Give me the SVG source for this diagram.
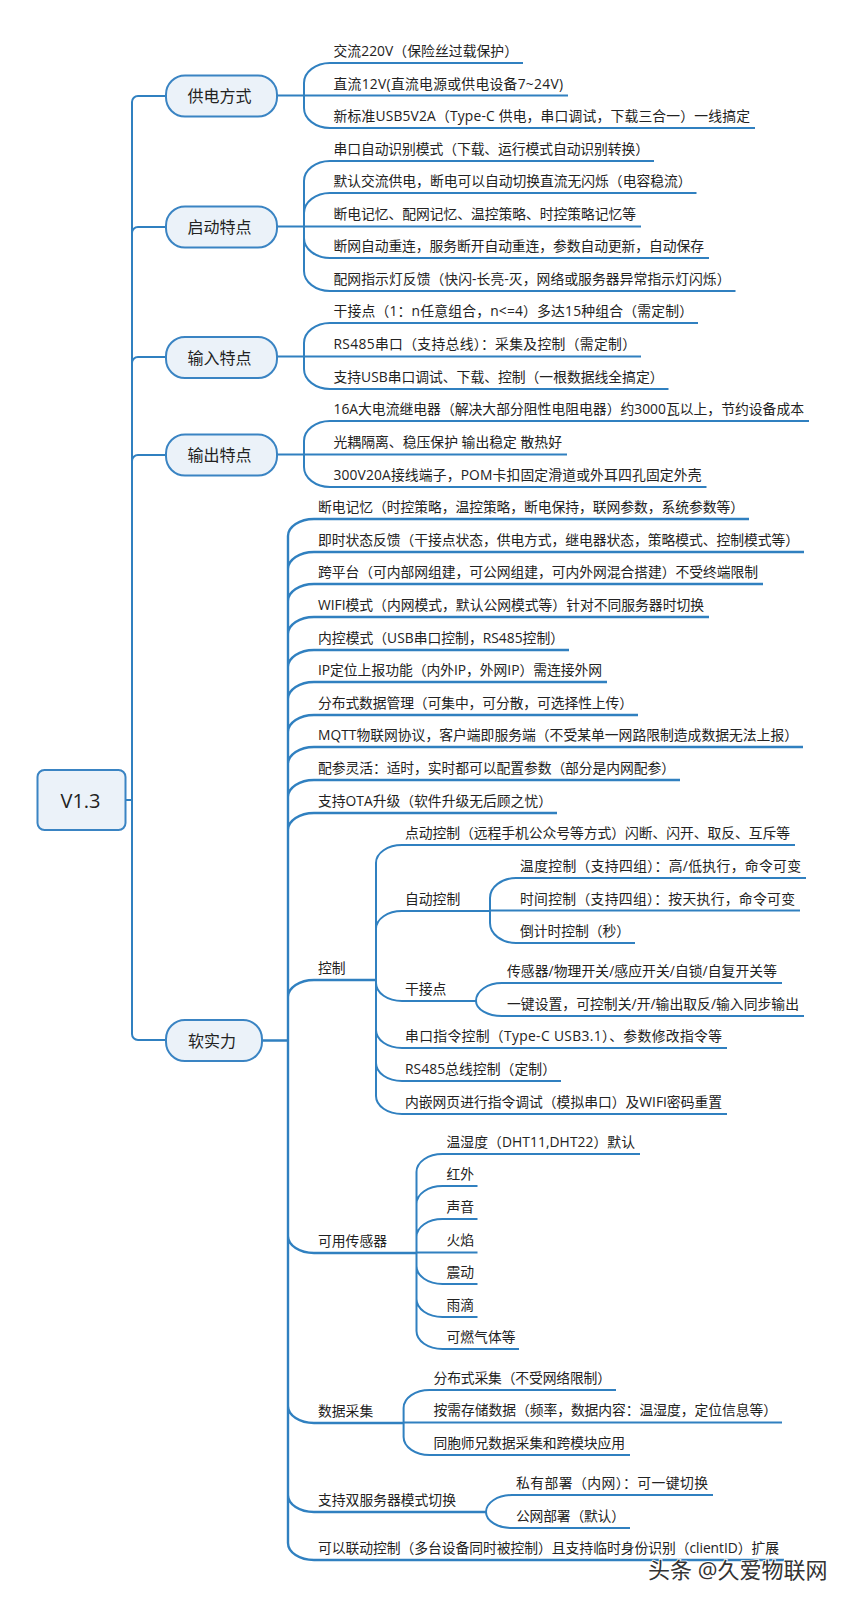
<svg xmlns="http://www.w3.org/2000/svg" width="845" height="1599" viewBox="0 0 845 1599">
<style>
text{font-family:"Open Sans","Noto Sans CJK SC",sans-serif;fill:#222}
.t{font-size:13.8px}
.n{font-size:16px;text-anchor:middle}
.r{font-size:20px;text-anchor:middle}
.box{fill:#ebf2f9;stroke:#3a84c3;stroke-width:2}
.c path{fill:none;stroke:#3080c0;stroke-width:2}
.c path.b{stroke-width:2.4}
.w{font-size:22px;fill:#333;stroke:#fff;stroke-width:1.6px;paint-order:stroke}
</style>
<rect width="845" height="1599" fill="#fff"/>
<g id="connectors" class="c">
<path d="M126,800H132M132,800V102A6 6 0 0 1 138,96H166M132,800V233A6 6 0 0 1 138,227H166M132,800V363A6 6 0 0 1 138,357H166M132,800V461A6 6 0 0 1 138,455H166M132,800V1034A6 6 0 0 0 138,1040H166"/>
<path d="M277,95.5H568M304,96V83A26 20 0 0 1 330,63H523M304,96V108A26 20 0 0 0 330,128H755"/>
<path d="M277,226.5H641M304,227V181A26 20 0 0 1 330,161H654M304,227V213A26 20 0 0 1 330,193H696.5M304,227V238A26 20 0 0 0 330,258H709M304,227V271A26 20 0 0 0 330,291H735.5"/>
<path d="M277,356.5H641M304,357V343A26 20 0 0 1 330,323H698M304,357V369A26 20 0 0 0 330,389H668.5"/>
<path d="M277,454.5H567M304,455V441A26 20 0 0 1 330,421H809M304,455V467A26 20 0 0 0 330,487H706.5"/>
<path class="b" d="M262,1040.5H288M288,1040V536A26 17 0 0 1 314,519H749M288,1040V569A26 17 0 0 1 314,552H804M288,1040V601A26 17 0 0 1 314,584H763M288,1040V634A26 17 0 0 1 314,617H709M288,1040V667A26 17 0 0 1 314,650H569M288,1040V699A26 17 0 0 1 314,682H607M288,1040V732A26 17 0 0 1 314,715H638M288,1040V764A26 17 0 0 1 314,747H803M288,1040V797A26 17 0 0 1 314,780H680M288,1040V830A26 17 0 0 1 314,813H557M288,1040V997A26 17 0 0 1 314,980H376M288,1040V1236A26 17 0 0 0 314,1253H416.5M288,1040V1406A26 17 0 0 0 314,1423H403.6M288,1040V1495A26 17 0 0 0 314,1512H486M288,1040V1543A26 17 0 0 0 314,1560H784"/>
<path d="M376,980V863A26 18 0 0 1 402,845H795M376,980V929A26 18 0 0 1 402,911H490M376,980V983A26 18 0 0 0 402,1001H476M376,980V1030A26 18 0 0 0 402,1048H727M376,980V1063A26 18 0 0 0 402,1081H561M376,980V1096A26 18 0 0 0 402,1114H727"/>
<path d="M490,910.5H800M490,911V898A26 20 0 0 1 516,878H806M490,911V923A26 20 0 0 0 516,943H635"/>
<path d="M476,1001A26 18 0 0 1 502,983H782M476,1001A26 15 0 0 0 502,1016H804"/>
<path d="M416.5,1252.5H477.5M416.5,1253V1172A26 18 0 0 1 442.5,1154H640M416.5,1253V1204A26 18 0 0 1 442.5,1186H477.5M416.5,1253V1237A26 18 0 0 1 442.5,1219H477.5M416.5,1253V1266A26 18 0 0 0 442.5,1284H477.5M416.5,1253V1299A26 18 0 0 0 442.5,1317H477.5M416.5,1253V1331A26 18 0 0 0 442.5,1349H519"/>
<path d="M403.6,1422.5H782M403.6,1423V1408A26 18 0 0 1 430,1390H616M403.6,1423V1437A26 18 0 0 0 430,1455H630"/>
<path d="M486,1512A26 17 0 0 1 512,1495H713M486,1512A26 16 0 0 0 512,1528H630"/>
</g>
<g id="root"><rect class="box" x="37.5" y="770" width="88" height="60" rx="7"/><text class="r" x="80.500" y="807.500">V1.3</text></g>
<g id="b1"><rect class="box" x="166" y="75.500" width="111" height="41" rx="19"/><text class="n" x="219.500" y="102">供电方式</text></g>
<g id="b2"><rect class="box" x="166" y="206.500" width="111" height="41" rx="19"/><text class="n" x="219.500" y="233">启动特点</text></g>
<g id="b3"><rect class="box" x="166" y="337" width="111" height="41" rx="19"/><text class="n" x="219.500" y="363.500">输入特点</text></g>
<g id="b4"><rect class="box" x="166" y="434.500" width="111" height="41" rx="19"/><text class="n" x="219.500" y="461">输出特点</text></g>
<g id="b5"><rect class="box" x="166" y="1020" width="96" height="41" rx="19"/><text class="n" x="212" y="1046.500">软实力</text></g>
<g id="g1">
<text class="t" x="333.500" y="56" textLength="184.500">交流220V（保险丝过载保护）</text>
<text class="t" x="333.500" y="88.500" textLength="229.500">直流12V(直流电源或供电设备7~24V)</text>
<text class="t" x="333.500" y="121" textLength="416.500">新标准USB5V2A（Type-C 供电，串口调试，下载三合一）一线搞定</text>
</g>
<g id="g2">
<text class="t" x="333.500" y="154" textLength="315.500">串口自动识别模式（下载、运行模式自动识别转换）</text>
<text class="t" x="333.500" y="186" textLength="358">默认交流供电，断电可以自动切换直流无闪烁（电容稳流）</text>
<text class="t" x="333.500" y="219" textLength="302.500">断电记忆、配网记忆、温控策略、时控策略记忆等</text>
<text class="t" x="333.500" y="251" textLength="370.500">断网自动重连，服务断开自动重连，参数自动更新，自动保存</text>
<text class="t" x="333.500" y="284" textLength="397">配网指示灯反馈（快闪-长亮-灭，网络或服务器异常指示灯闪烁）</text>
</g>
<g id="g3">
<text class="t" x="333.500" y="316" textLength="359.500">干接点（1：n任意组合，n&lt;=4）多达15种组合（需定制）</text>
<text class="t" x="333.500" y="349" textLength="302.500">RS485串口（支持总线）：采集及控制（需定制）</text>
<text class="t" x="333.500" y="382" textLength="330">支持USB串口调试、下载、控制（一根数据线全搞定）</text>
</g>
<g id="g4">
<text class="t" x="333.500" y="414" textLength="470.500">16A大电流继电器（解决大部分阻性电阻电器）约3000瓦以上，节约设备成本</text>
<text class="t" x="333.500" y="447" textLength="228.500">光耦隔离、稳压保护 输出稳定 散热好</text>
<text class="t" x="333.500" y="480" textLength="368">300V20A接线端子，POM卡扣固定滑道或外耳四孔固定外壳</text>
</g>
<g id="g5">
<text class="t" x="318" y="512" textLength="426">断电记忆（时控策略，温控策略，断电保持，联网参数，系统参数等）</text>
<text class="t" x="318" y="545" textLength="481">即时状态反馈（干接点状态，供电方式，继电器状态，策略模式、控制模式等）</text>
<text class="t" x="318" y="577" textLength="440">跨平台（可内部网组建，可公网组建，可内外网混合搭建）不受终端限制</text>
<text class="t" x="318" y="610" textLength="386">WIFI模式（内网模式，默认公网模式等）针对不同服务器时切换</text>
<text class="t" x="318" y="643" textLength="246">内控模式（USB串口控制，RS485控制）</text>
<text class="t" x="318" y="675" textLength="284">IP定位上报功能（内外IP，外网IP）需连接外网</text>
<text class="t" x="318" y="708" textLength="315">分布式数据管理（可集中，可分散，可选择性上传）</text>
<text class="t" x="318" y="740" textLength="480">MQTT物联网协议，客户端即服务端（不受某单一网路限制造成数据无法上报）</text>
<text class="t" x="318" y="773" textLength="357">配参灵活：适时，实时都可以配置参数（部分是内网配参）</text>
<text class="t" x="318" y="806" textLength="234">支持OTA升级（软件升级无后顾之忧）</text>
<text class="t" x="318" y="973">控制</text>
<text class="t" x="318" y="1246">可用传感器</text>
<text class="t" x="318" y="1416">数据采集</text>
<text class="t" x="318" y="1505">支持双服务器模式切换</text>
<text class="t" x="318" y="1553" textLength="461">可以联动控制（多台设备同时被控制）且支持临时身份识别（clientID）扩展</text>
</g>
<g id="g6">
<text class="t" x="405" y="838" textLength="385">点动控制（远程手机公众号等方式）闪断、闪开、取反、互斥等</text>
<text class="t" x="405" y="904">自动控制</text>
<text class="t" x="405" y="994">干接点</text>
<text class="t" x="405" y="1041" textLength="317">串口指令控制（Type-C USB3.1）、参数修改指令等</text>
<text class="t" x="405" y="1074" textLength="151">RS485总线控制（定制）</text>
<text class="t" x="405" y="1107" textLength="317">内嵌网页进行指令调试（模拟串口）及WIFI密码重置</text>
<text class="t" x="520" y="871" textLength="281">温度控制（支持四组）：高/低执行，命令可变</text>
<text class="t" x="520" y="903.500" textLength="275">时间控制（支持四组）：按天执行，命令可变</text>
<text class="t" x="520" y="936" textLength="110">倒计时控制（秒）</text>
<text class="t" x="507" y="976" textLength="270">传感器/物理开关/感应开关/自锁/自复开关等</text>
<text class="t" x="507" y="1009" textLength="292">一键设置，可控制关/开/输出取反/输入同步输出</text>
</g>
<g id="g7">
<text class="t" x="446.500" y="1147" textLength="188.500">温湿度（DHT11,DHT22）默认</text>
<text class="t" x="446.500" y="1179">红外</text>
<text class="t" x="446.500" y="1212">声音</text>
<text class="t" x="446.500" y="1245">火焰</text>
<text class="t" x="446.500" y="1277">震动</text>
<text class="t" x="446.500" y="1310">雨滴</text>
<text class="t" x="446.500" y="1342">可燃气体等</text>
</g>
<g id="g8">
<text class="t" x="433.500" y="1383" textLength="177.500">分布式采集（不受网络限制）</text>
<text class="t" x="433.500" y="1415" textLength="343.500">按需存储数据（频率，数据内容：温湿度，定位信息等）</text>
<text class="t" x="433.500" y="1448" textLength="191.500">同胞师兄数据采集和跨模块应用</text>
<text class="t" x="516" y="1488" textLength="192">私有部署（内网）：可一键切换</text>
<text class="t" x="516" y="1521" textLength="109">公网部署（默认）</text>
</g>
<text class="w" x="648" y="1578">头条 @久爱物联网</text>
</svg>
